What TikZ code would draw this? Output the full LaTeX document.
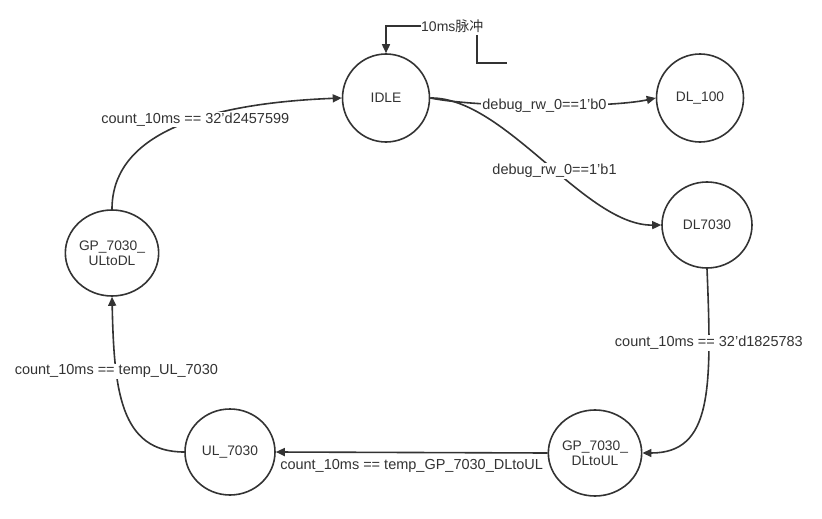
\documentclass[tikz,border=0pt]{standalone}
\usepackage{fontspec}
\setmainfont{Liberation Sans}
\newfontfamily\cjk{Noto Sans CJK SC}
\usetikzlibrary{arrows.meta,shapes.geometric}
\definecolor{ink}{HTML}{333333}
\newcommand{\q}{\char"0027\relax}
\begin{document}
\begin{tikzpicture}[x=1pt,y=-1pt,
  state/.style={draw=ink,line width=1.6pt,ellipse,minimum width=90pt,minimum height=86pt,inner sep=0pt,text=ink,font=\fontsize{13.8}{15.5}\selectfont,align=center},
  trans/.style={draw=ink,line width=1.6pt,-{Triangle[length=9pt,width=8pt]}},
  lab/.style={fill=white,text=ink,font=\fontsize{14.5}{16}\selectfont,inner sep=1pt}]
\useasboundingbox (0,0) rectangle (822,519);
\node[state,minimum width=87pt,minimum height=88pt] (idle) at (386,98) {IDLE};
\node[state,minimum width=87pt,minimum height=88pt] (dl100) at (700,98) {DL\_100};
\node[state] (dl7030) at (707,225) {DL7030};
\node[state] (gpd) at (595,453) {GP\_7030\_\\DLtoUL};
\node[state] (ul) at (230,452) {UL\_7030};
\node[state] (gpu) at (112,253) {GP\_7030\_\\ULtoDL};
% pulse marker
\node[lab,inner sep=0pt,anchor=west,font=\fontsize{14}{15}\selectfont] (pulse) at (421,26) {10ms{\cjk 脉冲}};
\draw[trans] (pulse.west) -| (idle.north);
\coordinate (m1) at (477,35);
\coordinate (m2) at (507,63);
\draw[draw=ink,line width=1.6pt] (m1) |- (m2);
% transitions
\draw[trans] (idle.east) .. controls (480,108) and (610,108) .. (dl100.west)
  node[lab,pos=0.5] {debug\_rw\_0==1\q b0};
\draw[trans] (idle.east) .. controls (505,97) and (585,226) .. (dl7030.west)
  node[lab,pos=0.54,yshift=-2pt] {debug\_rw\_0==1\q b1};
\draw[trans] (dl7030.south) .. controls (712,390) and (712,453) .. (gpd.east)
  node[lab,pos=0.23] {count\_10ms == 32\q d1825783};
\draw[trans] (gpd.west) -- (ul.east)
  node[lab,pos=0.5,below=5pt] {count\_10ms == temp\_GP\_7030\_DLtoUL};
\draw[trans] (ul.west) .. controls (120,452) and (114,390) .. (gpu.south)
  node[lab,pos=0.7] {count\_10ms == temp\_UL\_7030};
\draw[trans] (gpu.north) .. controls (112,140) and (190,104) .. (idle.west)
  node[lab,pos=0.6] {count\_10ms == 32\q d2457599};
\end{tikzpicture}
\end{document}
